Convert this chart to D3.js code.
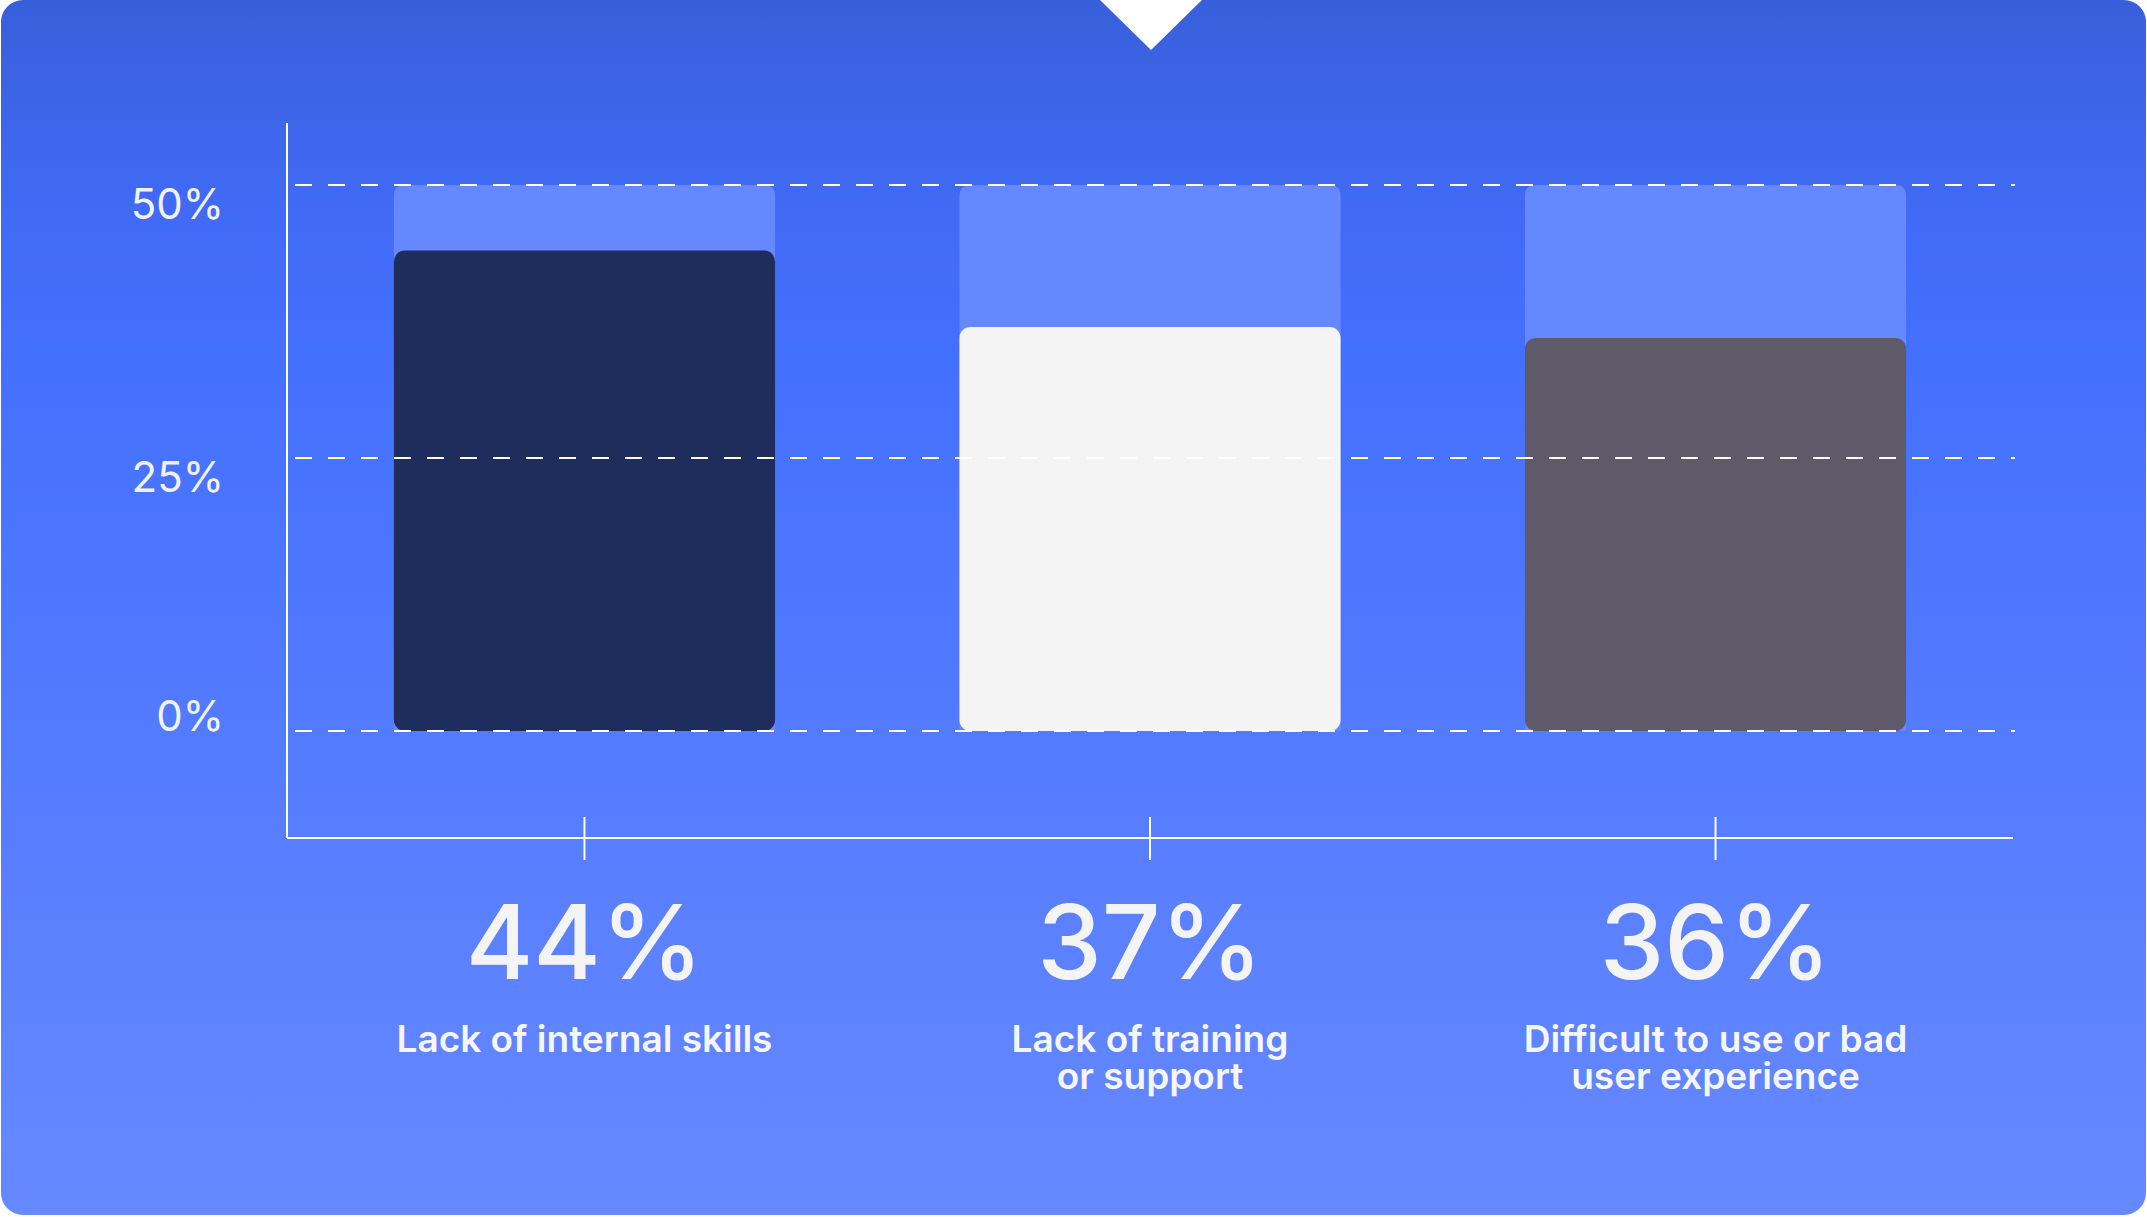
<!DOCTYPE html>
<html>
<head>
<meta charset="utf-8">
<script src="https://cdn.jsdelivr.net/npm/d3@7"></script>
<style>
  html, body { margin: 0; padding: 0; background: #ffffff; }
  svg { display: block; }
  text { font-family: Inter, "Noto Sans", sans-serif; }
</style>
</head>
<body>
<svg id="chart" width="2147" height="1217"></svg>
<script>
// ---- data ----
const categories = ["Lack of internal skills", "Lack of training or support", "Difficult to use or bad user experience"];
const labelLines = [["Lack of internal skills"], ["Lack of training", "or support"], ["Difficult to use or bad", "user experience"]];
const values = [44, 37, 36];
const maxValue = 50;
const valueLabels = ["44%", "37%", "36%"];
const yTicks = [0, 25, 50];
const yTickLabels = ["0%", "25%", "50%"];
const barColors = ["#1F2D5C", "#F4F4F4", "#5F5A69"];

// ---- layout ----
const W = 2147, H = 1217;
const svg = d3.select("#chart");
const defs = svg.append("defs");
const grad = defs.append("linearGradient").attr("id", "bg").attr("x1", 0).attr("y1", 0).attr("x2", 0).attr("y2", 1);
grad.append("stop").attr("offset", "0%").attr("stop-color", "#385FDA");
grad.append("stop").attr("offset", "18%").attr("stop-color", "#416BF6");
grad.append("stop").attr("offset", "30%").attr("stop-color", "#4470FE");
grad.append("stop").attr("offset", "100%").attr("stop-color", "#6689FF");

svg.append("rect").attr("x", 1).attr("y", 0).attr("width", W - 2).attr("height", 1215)
  .attr("rx", 22).attr("fill", "url(#bg)");

// notch
svg.append("path").attr("d", "M1100,0 L1202,0 L1151,50 Z").attr("fill", "#ffffff");

const x0 = 287, x1 = 2013, yAxisTop = 123, xAxisY = 838;
const x = d3.scaleBand().domain(categories).range([x0, x1]).paddingInner(0.326).paddingOuter(0.189);
const y = d3.scaleLinear().domain([0, 50]).range([731, 185]);

const g = svg.append("g");

// background bars (to max)
g.selectAll(".bgbar").data(categories).join("path")
  .attr("class", "bgbar")
  .attr("fill", "#6688FE")
  .attr("d", d => {
    const bx = x(d), bw = x.bandwidth(), top = y(maxValue), bot = y(0), r = 11;
    return `M${bx},${bot} L${bx},${top + r} Q${bx},${top} ${bx + r},${top} L${bx + bw - r},${top} Q${bx + bw},${top} ${bx + bw},${top + r} L${bx + bw},${bot} Z`;
  });

// value bars
g.selectAll(".vbar").data(values).join("rect")
  .attr("class", "vbar")
  .attr("x", (d, i) => x(categories[i]))
  .attr("width", x.bandwidth())
  .attr("y", d => y(d))
  .attr("height", d => y(0) - y(d))
  .attr("rx", 11)
  .attr("fill", (d, i) => barColors[i]);

// gridlines
g.selectAll(".grid").data(yTicks).join("line")
  .attr("class", "grid")
  .attr("x1", x0).attr("x2", 2015)
  .attr("y1", d => y(d)).attr("y2", d => y(d))
  .attr("stroke", "#ffffff").attr("stroke-width", 2)
  .attr("stroke-dasharray", "17,16")
  .attr("stroke-dashoffset", -8);

// axes lines
g.append("line").attr("x1", x0).attr("x2", x0).attr("y1", yAxisTop).attr("y2", xAxisY)
  .attr("stroke", "#ffffff").attr("stroke-width", 2);
g.append("line").attr("x1", x0).attr("x2", x1).attr("y1", xAxisY).attr("y2", xAxisY)
  .attr("stroke", "#ffffff").attr("stroke-width", 2);

// x ticks
g.selectAll(".xtick").data(categories).join("line")
  .attr("class", "xtick")
  .attr("x1", d => x(d) + x.bandwidth() / 2).attr("x2", d => x(d) + x.bandwidth() / 2)
  .attr("y1", 817).attr("y2", 860)
  .attr("stroke", "#ffffff").attr("stroke-width", 2);

// y tick labels
g.selectAll(".ylab").data(yTicks).join("text")
  .attr("class", "ylab")
  .attr("x", 224)
  .attr("y", d => y(d) + (d === 0 ? 0 : 34))
  .attr("text-anchor", "end")
  .attr("font-size", 42)
  .attr("font-weight", 400)
  .attr("fill", "#F2F2F2")
  .text((d, i) => yTickLabels[i]);

// big value labels
g.selectAll(".vlab").data(valueLabels).join("text")
  .attr("class", "vlab")
  .attr("x", (d, i) => x(categories[i]) + x.bandwidth() / 2)
  .attr("y", 979)
  .attr("text-anchor", "middle")
  .attr("font-size", 103)
  .attr("font-weight", 500)
  .attr("fill", "#F4F4F4")
  .text(d => d);

// category labels
const cl = g.selectAll(".clab").data(labelLines).join("text")
  .attr("class", "clab")
  .attr("text-anchor", "middle")
  .attr("font-size", 37)
  .attr("font-weight", 600)
  .attr("fill", "#F6F6F6");
cl.each(function(lines, i) {
  const t = d3.select(this);
  lines.forEach((ln, j) => {
    t.append("tspan")
      .attr("x", x(categories[i]) + x.bandwidth() / 2)
      .attr("y", 1052 + j * 37)
      .text(ln);
  });
});
</script>
</body>
</html>
